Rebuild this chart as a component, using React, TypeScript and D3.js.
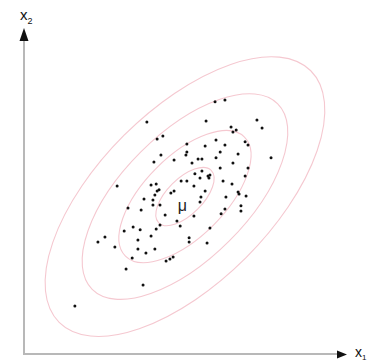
import React from 'react';
import * as d3 from 'd3';

// sample points (data units)
const px = [3.84, 5.69, 7.28, 7.44, 5.97, 6.28, 6.47, 6.63, 6.53, 4.16, 4.34, 5.09, 6.0, 6.28, 6.91, 7.0, 5.66, 5.09, 5.06, 4.28, 5.44, 5.56, 6.13, 6.0, 6.69, 4.06, 4.69, 5.25, 6.53, 7.0, 6.13, 7.72, 5.34, 5.56, 5.5, 5.75, 5.81, 5.78, 6.91, 2.91, 4.91, 5.09, 6.22, 6.5, 3.97, 4.13, 4.22, 4.16, 4.69, 4.59, 4.09, 5.31, 5.66, 6.69, 6.72, 6.94, 3.75, 4.03, 5.53, 6.31, 5.5, 4.03, 4.25, 3.25, 3.66, 6.78, 6.78, 6.28, 6.16, 4.41, 5.31, 4.78, 4.88, 4.25, 4.13, 5.81, 3.41, 3.63, 3.13, 3.97, 5.16, 5.16, 3.56, 5.72, 2.84, 3.56, 4.09, 3.81, 3.38, 4.44, 4.56, 4.66, 3.19, 3.72, 1.59, 2.53, 2.31];
const py = [7.25, 7.28, 7.31, 7.06, 7.88, 7.94, 7.09, 7.0, 6.94, 6.72, 6.81, 6.56, 6.69, 6.53, 6.63, 6.53, 6.5, 6.31, 6.22, 6.22, 6.09, 6.09, 6.31, 6.13, 6.25, 6.0, 6.06, 5.97, 5.97, 5.81, 5.81, 6.13, 5.63, 5.72, 5.5, 5.56, 5.59, 5.5, 5.56, 5.25, 5.41, 5.41, 5.41, 5.31, 5.28, 5.31, 5.13, 5.09, 5.09, 5.03, 4.97, 5.25, 5.09, 5.06, 5.0, 4.94, 4.84, 4.81, 4.91, 4.91, 4.75, 4.66, 4.66, 4.56, 4.5, 4.63, 4.47, 4.53, 4.38, 4.34, 4.31, 4.16, 4.0, 4.03, 3.91, 3.94, 3.97, 3.88, 3.84, 3.69, 3.63, 3.5, 3.56, 3.47, 3.34, 3.28, 3.28, 3.16, 3.0, 2.91, 2.97, 3.03, 2.66, 2.16, 1.5, 3.66, 3.5];

// mean and contour ellipses (semi-axes along / across the main direction)
const mu = [5.03, 4.92];
const majorAxes = [1.16, 2.63, 4.1, 5.56];
const minorAxes = [0.56, 1.26, 1.96, 2.7];
const tilt = 45;

const W = 371;
const H = 361;

const App = () => {
  const x = d3.scaleLinear().domain([0, 10]).range([24, 344]);
  const y = d3.scaleLinear().domain([0, 10]).range([354, 34]);

  const cx = x(mu[0]);
  const cy = y(mu[1]);
  const points = d3.zip(px, py);

  const yTop = y(10) - 6;
  const xEnd = x(10) + 3;

  return (
    <svg width={W} height={H} style={{position: 'absolute', left: 0, top: 0, background: '#fff'}}
         fontFamily="'Liberation Sans', Arial, sans-serif">
      {/* axes */}
      <line x1={x(0)} x2={x(0)} y1={y(0) + 1} y2={yTop + 12} stroke="#b8b8b8" strokeWidth={2}/>
      <line x1={x(0) - 1} x2={xEnd - 9} y1={y(0)} y2={y(0)} stroke="#b8b8b8" strokeWidth={2}/>
      <path d={`M${x(0)},${yTop} L${x(0) - 4.5},${yTop + 13} L${x(0) + 4.5},${yTop + 13} Z`} fill="#111"/>
      <path d={`M${xEnd},${y(0) + 0.5} L${xEnd - 10},${y(0) - 3.5} L${xEnd - 10},${y(0) + 4.5} Z`} fill="#111"/>
      <text x={x(0) - 4} y={20} fontSize={15} fill="#111">x<tspan fontSize={9} dy={4}>2</tspan></text>
      <text x={xEnd + 8} y={357} fontSize={14} fill="#111">x<tspan fontSize={8} dy={3}>1</tspan></text>

      {/* contours */}
      {majorAxes.map((a, i) => (
        <ellipse key={i} cx={cx} cy={cy}
                 rx={x(a) - x(0)} ry={y(0) - y(minorAxes[i])}
                 transform={`rotate(${-tilt},${cx},${cy})`}
                 fill="none" stroke="#f5c8d0" strokeWidth={1.1}/>
      ))}

      {/* samples */}
      {points.map((d, i) => (
        <circle key={i} cx={x(d[0])} cy={y(d[1])} r={1.5} fill="#111"/>
      ))}

      <text x={cx - 2.5} y={cy + 14.5} fontSize={16} textAnchor="middle" fill="#222">μ</text>
    </svg>
  );
};

export default App;
